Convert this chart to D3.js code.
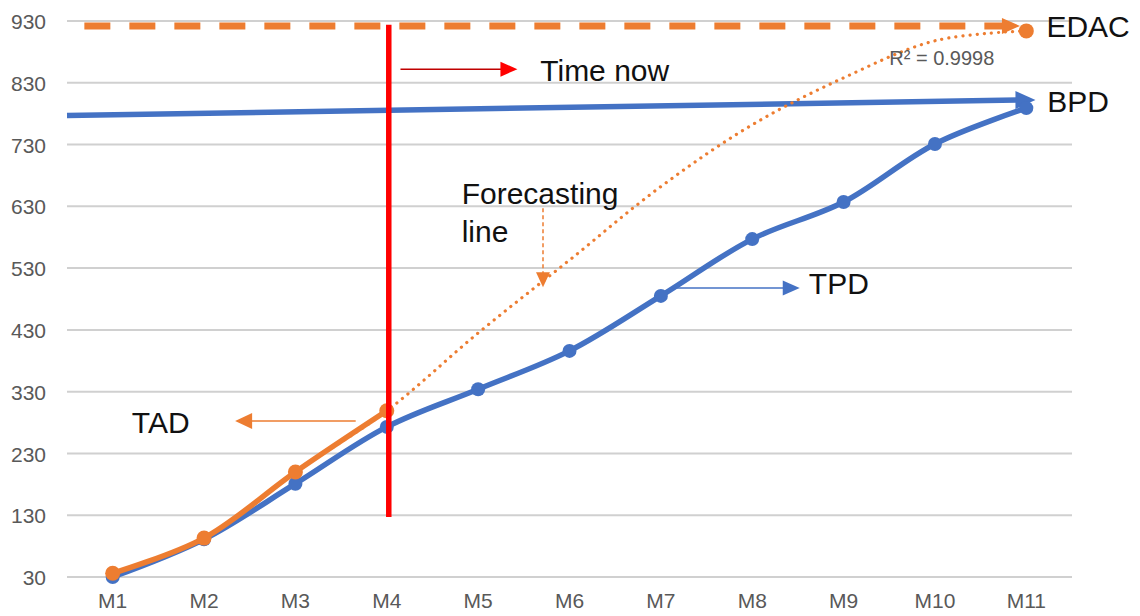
<!DOCTYPE html>
<html lang="en">
<head>
<meta charset="UTF-8">
<title>EDAC forecast</title>
<script src="https://cdn.jsdelivr.net/npm/d3@7/dist/d3.min.js"></script>
<style>
  body { margin: 0; background: #fff; }
  svg { display: block; }
  .lab { font-family: "Liberation Sans", Arial, sans-serif; font-size: 30px; fill: #111; }
</style>
</head>
<body>
<div id="chart"></div>
<script>
// data
const months = ["M1","M2","M3","M4","M5","M6","M7","M8","M9","M10","M11"];
const yTicks = [30,130,230,330,430,530,630,730,830,930];
const tpd = [30, 91, 181, 273, 334, 396, 485, 577, 637, 731, 789];
const tad = [36, 93, 200, 299];
const trend = [36, 93, 200, 299, 425, 543, 662, 762, 838, 898, 914];
const edac = 922;
const bpdStart = 777, bpdEnd = 802;
const timeNowMonth = "M4";

const w = 1140, h = 616;
const blue = "#4472C4", orange = "#ED7D31";

const svg = d3.select("#chart").append("svg").attr("width", w).attr("height", h);

const x = d3.scaleBand().domain(months).range([67, 1072]);
const cx = m => x(m) + x.bandwidth() / 2;
// fractional month index -> pixel, for annotations
const xi = d3.scaleLinear().domain([0, months.length - 1]).range([cx("M1"), cx("M11")]);
const y = d3.scaleLinear().domain([30, 930]).range([577, 21]);

// gridlines
svg.append("g").selectAll("line").data(yTicks).enter().append("line")
  .attr("x1", 67).attr("x2", 1072)
  .attr("y1", d => y(d)).attr("y2", d => y(d))
  .attr("stroke", "#d0d0d0").attr("stroke-width", 2);

// axes
const yAxis = svg.append("g").attr("transform", "translate(46,0)")
  .call(d3.axisLeft(y).tickValues(yTicks).tickSize(0).tickPadding(0));
yAxis.select(".domain").remove();
yAxis.attr("font-size", null).attr("font-family", null);
yAxis.selectAll("text")
  .attr("font-family", "Liberation Sans, Arial, sans-serif")
  .attr("font-size", 21).attr("fill", "#595959").attr("dy", "0.36em");

const xAxis = svg.append("g").attr("transform", "translate(0,593)")
  .call(d3.axisBottom(x).tickSize(0).tickPadding(0));
xAxis.select(".domain").remove();
xAxis.attr("font-size", null).attr("font-family", null);
xAxis.selectAll("text")
  .attr("font-family", "Liberation Sans Narrow, Liberation Sans, Arial, sans-serif")
  .attr("font-size", 21).attr("fill", "#595959").attr("dy", "0.71em");

function tri(tipX, tipY, dir, len, half) {
  if (dir === "r") return `M${tipX},${tipY}L${tipX-len},${tipY-half}L${tipX-len},${tipY+half}Z`;
  if (dir === "l") return `M${tipX},${tipY}L${tipX+len},${tipY-half}L${tipX+len},${tipY+half}Z`;
  return `M${tipX},${tipY}L${tipX-half},${tipY-len}L${tipX+half},${tipY-len}Z`;
}

// EDAC dashed line
svg.append("line")
  .attr("x1", xi(-0.31)).attr("x2", xi(9.76))
  .attr("y1", y(edac)).attr("y2", y(edac))
  .attr("stroke", orange).attr("stroke-width", 7).attr("stroke-dasharray", "26 19");
svg.append("path").attr("d", tri(xi(9.93), y(edac), "r", 18, 8)).attr("fill", orange);

// BPD line
svg.append("line")
  .attr("x1", 67).attr("y1", y(bpdStart))
  .attr("x2", xi(9.9)).attr("y2", y(bpdEnd))
  .attr("stroke", blue).attr("stroke-width", 5.5);
svg.append("path").attr("d", tri(xi(10.1), y(bpdEnd), "r", 20, 9)).attr("fill", blue);

// forecasting trendline (dotted)
const line = d3.line().x((d, i) => xi(i)).y(d => y(d)).curve(d3.curveCatmullRom.alpha(0.5));
svg.append("path").datum(trend).attr("d", line)
  .attr("fill", "none").attr("stroke", orange).attr("stroke-width", 3.2)
  .attr("stroke-dasharray", "0.1 7").attr("stroke-linecap", "round");

// TPD
svg.append("path").datum(tpd).attr("d", line)
  .attr("fill", "none").attr("stroke", blue).attr("stroke-width", 5.5);
svg.append("g").selectAll("circle").data(tpd).enter().append("circle")
  .attr("cx", (d, i) => xi(i)).attr("cy", d => y(d)).attr("r", 7).attr("fill", blue);

// TAD
svg.append("path").datum(tad).attr("d", line)
  .attr("fill", "none").attr("stroke", orange).attr("stroke-width", 5.5);
svg.append("g").selectAll("circle").data(tad).enter().append("circle")
  .attr("cx", (d, i) => xi(i)).attr("cy", d => y(d)).attr("r", 7.5).attr("fill", orange);

// EDAC point
svg.append("circle").attr("cx", cx("M11")).attr("cy", y(trend[trend.length - 1]))
  .attr("r", 7.5).attr("fill", orange);

// time now vertical line
svg.append("line")
  .attr("x1", cx(timeNowMonth) + 2).attr("x2", cx(timeNowMonth) + 2)
  .attr("y1", y(924)).attr("y2", y(127))
  .attr("stroke", "#ff0000").attr("stroke-width", 5.5);

// annotation arrows
svg.append("line").attr("x1", xi(3.15)).attr("x2", xi(4.3)).attr("y1", y(852)).attr("y2", y(852))
  .attr("stroke", "#c00000").attr("stroke-width", 1.5);
svg.append("path").attr("d", tri(xi(4.43), y(852), "r", 17, 7.5)).attr("fill", "#ff0000");

svg.append("line").attr("x1", xi(6.1)).attr("x2", xi(7.4)).attr("y1", y(498)).attr("y2", y(498))
  .attr("stroke", blue).attr("stroke-width", 1.5);
svg.append("path").attr("d", tri(xi(7.52), y(498), "r", 17, 7.5)).attr("fill", blue);

svg.append("line").attr("x1", xi(2.66)).attr("x2", xi(1.45)).attr("y1", y(282.5)).attr("y2", y(282.5))
  .attr("stroke", orange).attr("stroke-width", 1.5);
svg.append("path").attr("d", tri(xi(1.34), y(282.5), "l", 17, 8)).attr("fill", orange);

svg.append("line").attr("x1", xi(4.71)).attr("x2", xi(4.71)).attr("y1", y(627)).attr("y2", y(515))
  .attr("stroke", orange).attr("stroke-width", 1.5).attr("stroke-dasharray", "4 3");
svg.append("path").attr("d", tri(xi(4.71), y(499), "d", 15, 7)).attr("fill", orange);

// labels
const labels = [
  ["Time now", 4.68, 833],
  ["EDAC", 10.22, 904],
  ["BPD", 10.23, 782.7],
  ["TPD", 7.62, 488],
  ["TAD", 0.21, 263],
  ["Forecasting", 3.82, 634],
  ["line", 3.82, 572]
];
svg.append("g").selectAll("text").data(labels).enter().append("text")
  .attr("class", "lab").attr("x", d => xi(d[1])).attr("y", d => y(d[2])).text(d => d[0]);

svg.append("text").attr("x", xi(8.5)).attr("y", y(859))
  .attr("font-family", "Liberation Sans, Arial, sans-serif").attr("font-size", 20)
  .attr("fill", "#595959").text("R² = 0.9998");
</script>
</body>
</html>
